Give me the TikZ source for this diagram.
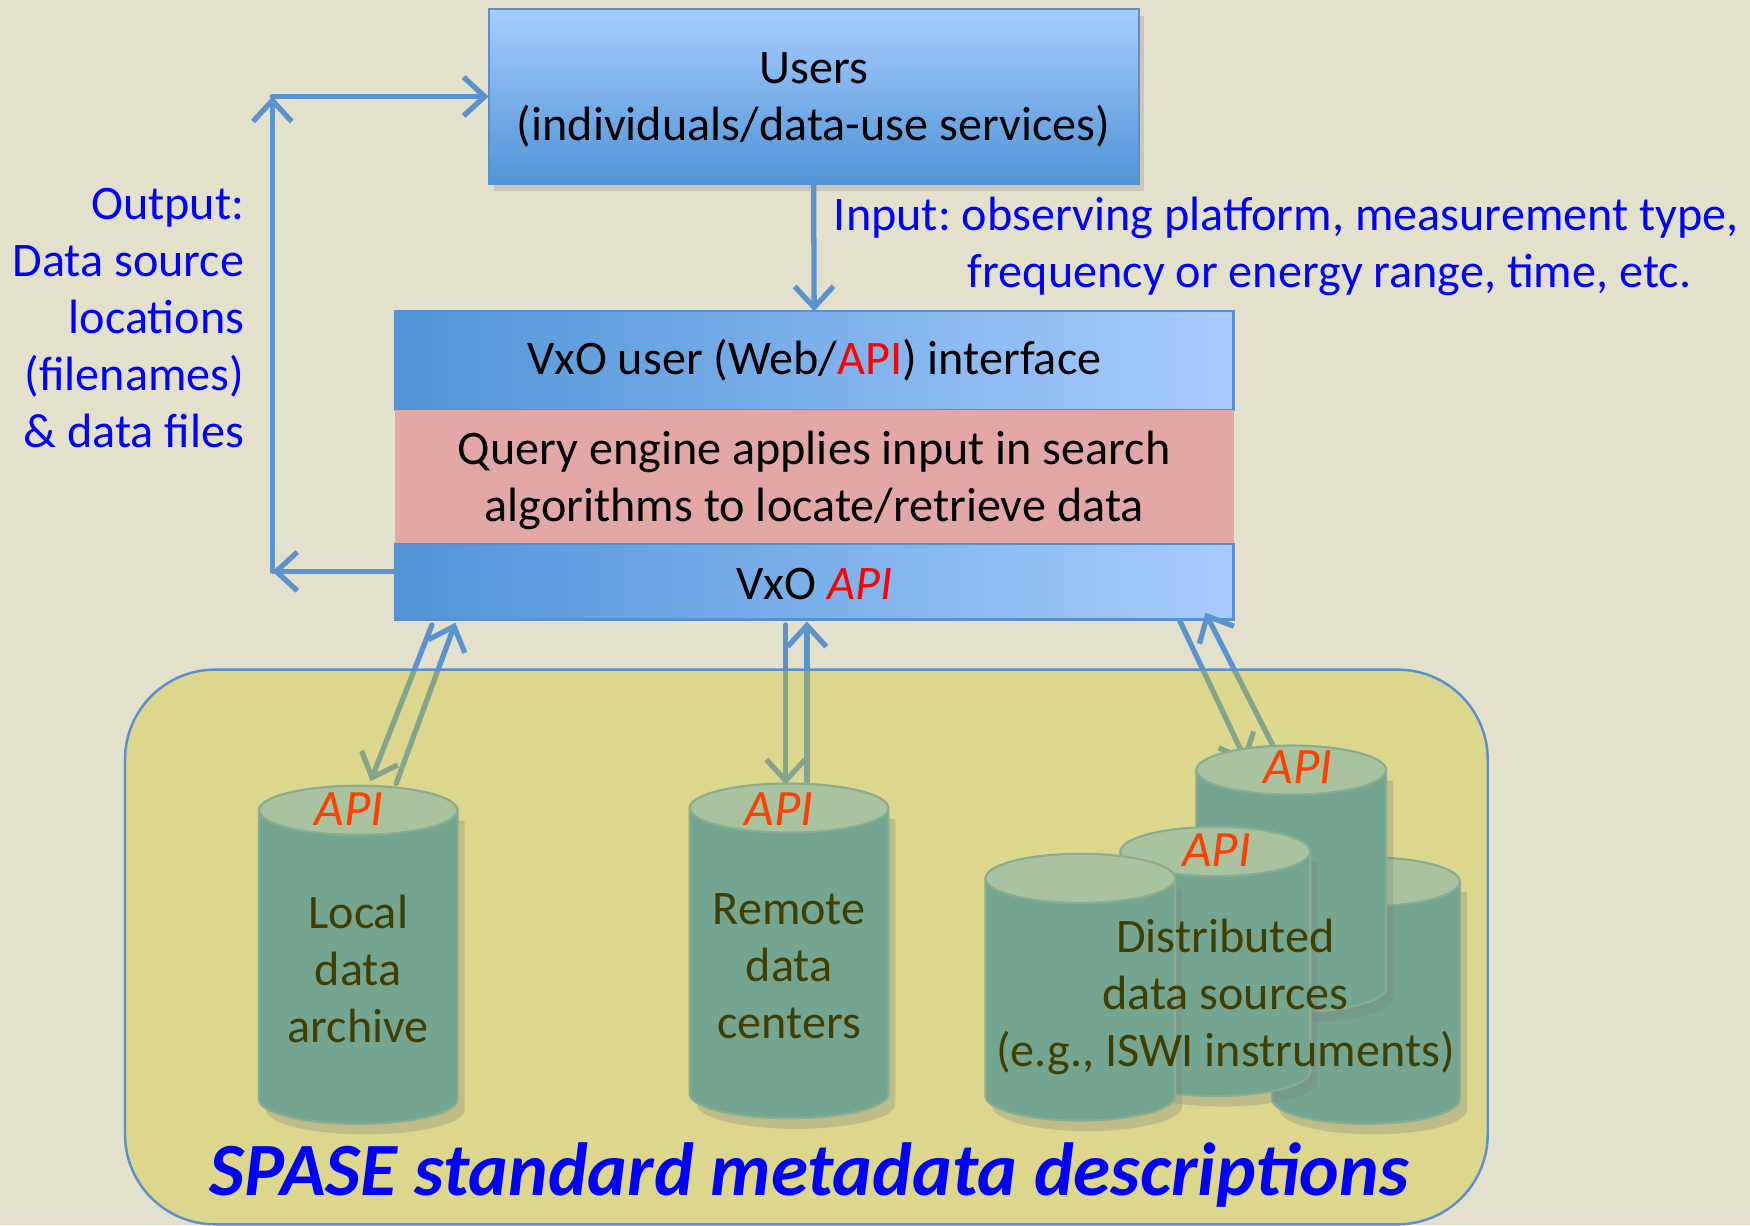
\documentclass[tikz,border=0pt]{standalone}
\usepackage{fontspec}
\setmainfont{Carlito}
\usetikzlibrary{arrows.meta,positioning,shadows}
\frenchspacing

\definecolor{bgbeige}{RGB}{227,224,204}
\definecolor{boxlight}{RGB}{168,204,255}
\definecolor{boxdark}{RGB}{80,148,214}
\definecolor{boxedge}{RGB}{92,143,206}
\definecolor{enginepink}{RGB}{227,168,166}
\definecolor{flowblue}{RGB}{91,147,207}
\definecolor{spaseyellow}{RGB}{207,201,21}
\definecolor{dbbodycol}{RGB}{116,165,145}
\definecolor{dbtopcol}{RGB}{169,195,160}
\definecolor{dbedgecol}{RGB}{137,173,144}
\definecolor{dbtext}{RGB}{66,62,0}
\definecolor{apired}{RGB}{255,64,0}

\begin{document}
\begin{tikzpicture}[x=0.011161cm, y=0.011161cm, node distance=0pt, font=\fontsize{13.7}{16.2}\selectfont,
  box/.style={rectangle, draw=boxedge, line width=0.6pt, outer sep=0pt, minimum width=8.382cm},
  flow/.style={draw=flowblue, line width=1.5pt, line cap=round, line join=round, -{Straight Barb[length=6pt,width=11pt]}},
  dbbody/.style={fill=dbbodycol, draw=dbedgecol, line width=0.6pt, drop shadow={opacity=0.3, shadow xshift=2pt, shadow yshift=-3pt}},
  dbtop/.style={fill=dbtopcol, draw=dbedgecol, line width=0.6pt},
  apilabel/.style={text=apired, font=\fontsize{14.5}{16.2}\selectfont\itshape},
  dblabel/.style={text=dbtext, align=center}]
  \fill[bgbeige] (0,0) rectangle (1568,1098);
  \useasboundingbox (0,0) rectangle (1568,1098);

  % users and VxO stack
  \node[box, top color=boxlight, bottom color=boxdark, minimum width=6.496cm, minimum height=1.752cm, align=center, text depth=0pt, drop shadow={opacity=0.25, shadow xshift=1.5pt, shadow yshift=-2pt}] (users) at (729,1011.5) {Users\\(individuals/data-use services)};
  \node[box, left color=boxdark, right color=boxlight, minimum height=0.982cm] (ui) at (729.5,775) {VxO user (Web/\textcolor{red}{API}) interface};
  \node[box, below=of ui, draw=none, fill=enginepink, minimum height=1.339cm, align=center, text depth=0pt, drop shadow={opacity=0.25, shadow xshift=0pt, shadow yshift=-2pt}] (engine) {Query engine applies input in search\\algorithms to locate/retrieve data};
  \node[box, below=of engine, left color=boxdark, right color=boxlight, minimum height=0.759cm, text height=10.5pt] (api) {VxO \textcolor{red}{\itshape API}};

  \node[anchor=east, align=right, text=blue] (output) at (230,813) {Output:\\Data source\\locations\\(filenames)\\\& data files};
  \node[anchor=west, align=left, text=blue] (input) at (736,877.5) {Input: observing platform, measurement type,\\\hspace*{1.34cm}frequency or energy range, time, etc.};

  \draw[flow] (users.south) -- (ui.north);
  \coordinate (outlow) at (244,586);
  \coordinate (outtop) at (244,1011.5);
  \draw[flow] (api.west |- outlow) -- (outlow);
  \draw[flow] (outlow) -- (outtop);
  \draw[flow] (outtop) -- (users.west);

  % links to the data sources
  \coordinate (local out) at (387,538);
  \coordinate (local in) at (332,398);
  \coordinate (local back) at (355,396);
  \coordinate (local api) at (408,540);
  \coordinate (remote out) at (704,538);
  \coordinate (remote in) at (704,395);
  \coordinate (remote back) at (723,398);
  \coordinate (remote api) at (723,541);
  \coordinate (dist out) at (1057,542);
  \coordinate (dist in) at (1117,415);
  \coordinate (dist back) at (1141,429);
  \coordinate (dist api) at (1080,549);
  \draw[flow] (local out) -- (local in);
  \draw[flow] (local back) -- (local api);
  \draw[flow] (remote out) -- (remote in);
  \draw[flow] (remote back) -- (remote api);
  \draw[flow] (dist out) -- (dist in);
  \draw[flow] (dist back) -- (dist api);

  \path[fill=spaseyellow, fill opacity=0.35, draw=boxedge, line width=0.7pt, rounded corners=0.9cm] (112,1) rectangle (1333,498);

  % cylinders: centre x / radius / top y / bottom y
  \foreach \cx/\rx/\yt/\yb in {321/89/372/113, 707/89/374/118, 1224/84/308/113, 1157/85/408/213, 1089/85/335/138, 968/85/311/116} {
    \path[dbbody] (\cx-\rx,\yt) -- (\cx-\rx,\yb) arc[start angle=180, end angle=360, x radius=\rx, y radius=22] -- (\cx+\rx,\yt) -- cycle;
    \path[dbtop] (\cx,\yt) ellipse[x radius=\rx, y radius=22];
  }

  \node[apilabel] (local top) at (313,373) {API};
  \node[apilabel] (remote top) at (698,373) {API};
  \node[apilabel] (dist top) at (1163,411) {API};
  \node[apilabel] (mid top) at (1090,336) {API};
  \node[dblabel] (local) at (321,230) {Local\\data\\archive};
  \node[dblabel] (remote) at (707,232) {Remote\\data\\centers};
  \node[dblabel] (dist) at (1098,205) {Distributed\\data sources\\(e.g., ISWI instruments)};

  \node[text=blue, font=\fontsize{21.4}{24}\selectfont\bfseries\itshape] (spase) at (725,45) {SPASE standard metadata descriptions};
\end{tikzpicture}
\end{document}
